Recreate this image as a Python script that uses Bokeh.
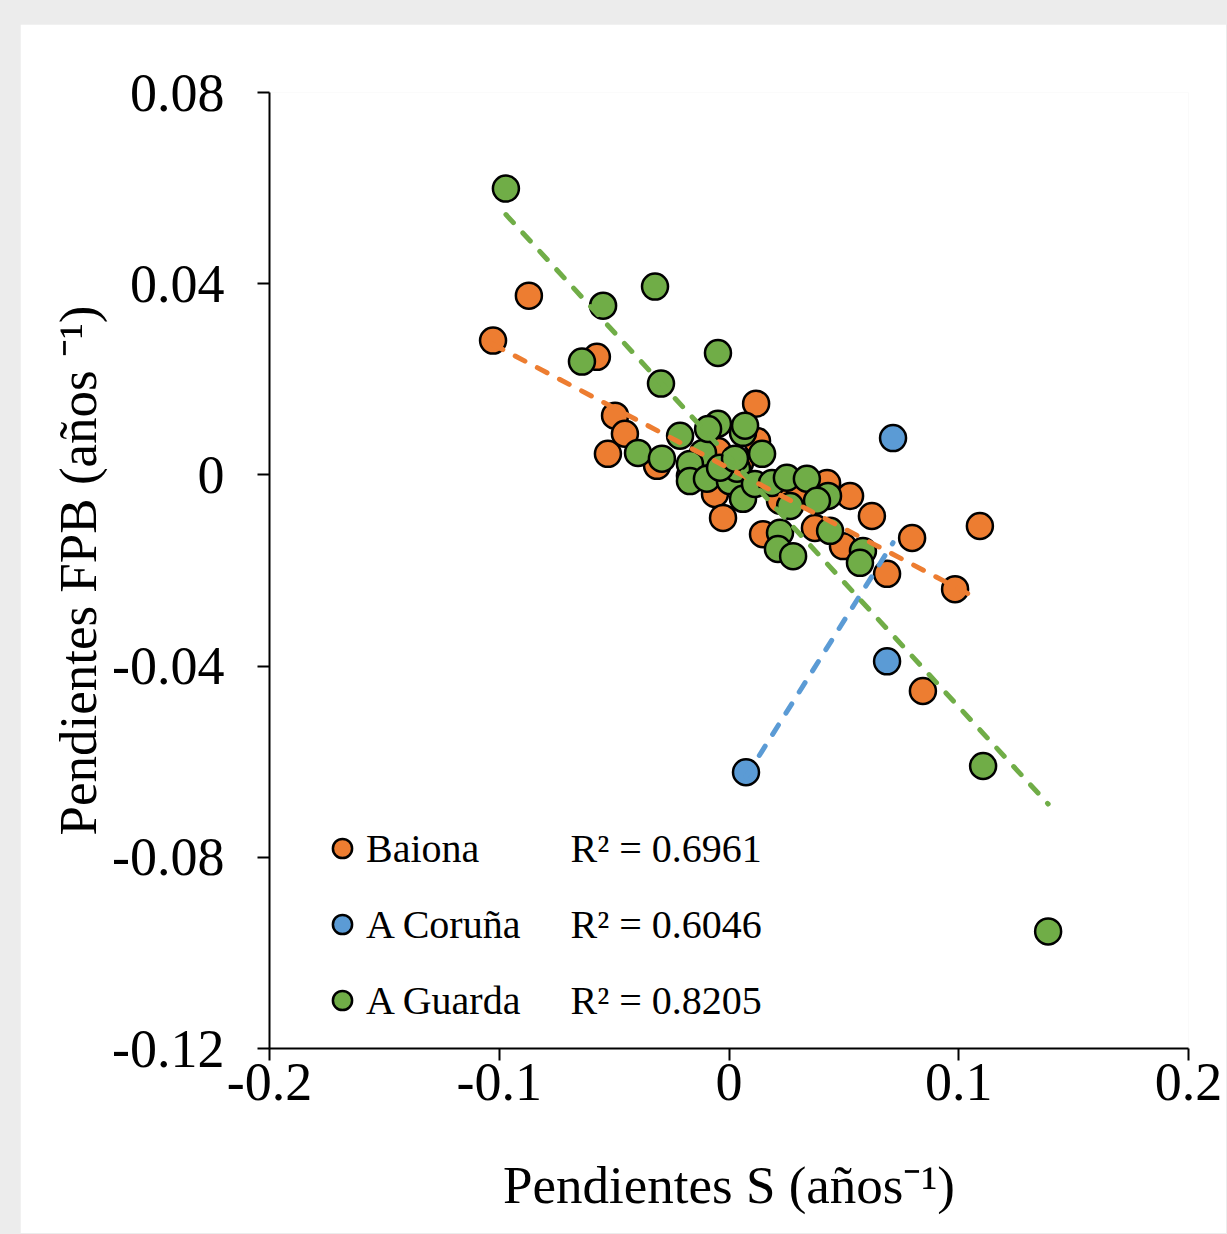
import numpy as np
from bokeh.plotting import figure
from bokeh.models import (Range1d, FixedTicker, Legend, LegendItem, Label,
                          GlobalInlineStyleSheet)
from bokeh.embed import file_html
from bokeh.resources import INLINE

# ---------------- data ----------------
baiona_x = [-0.1027, -0.0871, -0.0575, -0.0496, -0.0453, -0.0527, -0.0313, -0.0061,
            -0.0026, 0.0118, 0.0148, 0.0122, -0.0048, -0.0170, 0.0427, 0.0527,
            0.0622, 0.0374, 0.0496, 0.0688, 0.0797, 0.1092, 0.0984, 0.0844,
            0.0222, 0.0048, 0.0309, -0.0100]
baiona_y = [0.0281, 0.0375, 0.0247, 0.0124, 0.0086, 0.0044, 0.0019, -0.0040,
            -0.0090, 0.0149, -0.0124, 0.0071, 0.0050, -0.0002, -0.0017, -0.0044,
            -0.0086, -0.0111, -0.0149, -0.0207, -0.0132, -0.0107, -0.0239, -0.0452,
            -0.0054, 0.0025, -0.0040, 0.0019]

coruna_x = [0.0074, 0.0688, 0.0714]
coruna_y = [-0.0622, -0.0390, 0.0077]

guarda_x = [-0.0971, -0.0322, -0.0548, -0.0640, -0.0048, -0.0296, -0.0396, -0.0292,
            -0.0213, -0.0113, -0.0048, -0.0091, 0.0061, 0.0070, -0.0170, -0.0170,
            -0.0096, 0.0004, 0.0035, 0.0061, 0.0113, 0.0144, 0.0187, 0.0252,
            0.0339, 0.0431, 0.0383, 0.0266, 0.0440, 0.0222, 0.0213, 0.0279,
            0.0583, 0.0570, 0.1106, 0.1389, -0.0039, 0.0026]
guarda_y = [0.0599, 0.0394, 0.0354, 0.0237, 0.0255, 0.0191, 0.0046, 0.0034,
            0.0082, 0.0046, 0.0107, 0.0096, 0.0088, 0.0103, 0.0023, -0.0013,
            -0.0008, -0.0013, 0.0013, -0.0050, -0.0019, 0.0044, -0.0017, -0.0006,
            -0.0008, -0.0044, -0.0054, -0.0065, -0.0117, -0.0121, -0.0155, -0.0170,
            -0.0159, -0.0184, -0.0609, -0.0955, 0.0015, 0.0034]

series_names = ["Baiona", "A Coruña", "A Guarda"]
r2_labels = ["R² = 0.6961", "R² = 0.6046", "R² = 0.8205"]

x_ticks = [-0.2, -0.1, 0, 0.1, 0.2]
x_tick_labels = ["-0.2", "-0.1", "0", "0.1", "0.2"]
y_ticks = [-0.12, -0.08, -0.04, 0, 0.04, 0.08]
y_tick_labels = ["-0.12", "-0.08", "-0.04", "0", "0.04", "0.08"]

colors = ["#ED7D31", "#5B9BD5", "#70AD47"]
FONT = "Liberation Serif"

# ---------------- figure ----------------
p = figure(width=1206, height=1209,
           x_range=Range1d(-0.2, 0.2), y_range=Range1d(-0.12, 0.08),
           output_backend="svg", toolbar_location=None,
           min_border_left=249, min_border_right=38,
           min_border_top=68, min_border_bottom=185,
           margin=(24, 0, 0, 20),
           background_fill_color="white", border_fill_color="white")
p.stylesheets = [GlobalInlineStyleSheet(css="body { background-color: #ececec; }")]
p.outline_line_color = None
p.xgrid.visible = False
p.ygrid.visible = False

p.xaxis.ticker = FixedTicker(ticks=x_ticks)
p.yaxis.ticker = FixedTicker(ticks=y_ticks)
p.xaxis.major_label_overrides = {t: l for t, l in zip(x_ticks, x_tick_labels)}
p.yaxis.major_label_overrides = {t: l for t, l in zip(y_ticks, y_tick_labels)}

for ax in (p.xaxis, p.yaxis):
    ax.axis_line_color = "black"
    ax.axis_line_width = 2
    ax.major_tick_line_color = "black"
    ax.major_tick_line_width = 2
    ax.major_tick_in = 0
    ax.major_tick_out = 12
    ax.minor_tick_line_color = None
    ax.major_label_text_font = FONT
    ax.major_label_text_font_size = "54px"
    ax.major_label_text_color = "black"
    ax.axis_label_text_font = FONT
    ax.axis_label_text_font_size = "53px"
    ax.axis_label_text_font_style = "normal"
    ax.axis_label_text_color = "black"

p.xaxis.major_label_standoff = 3
p.yaxis.major_label_standoff = 33
p.xaxis.axis_label = "Pendientes S (años⁻¹)"
p.yaxis.axis_label = "Pendientes FPB (años ⁻¹)"
p.xaxis.axis_label_standoff = 53
p.yaxis.axis_label_standoff = 2

# ---------------- points ----------------
all_x = [baiona_x, coruna_x, guarda_x]
all_y = [baiona_y, coruna_y, guarda_y]
renderers = []
for xs, ys, c in zip(all_x, all_y, colors):
    r = p.scatter(xs, ys, size=26, fill_color=c, line_color="black", line_width=2.5)
    renderers.append(r)

# ---------------- linear trendlines (least squares) ----------------
for xs, ys, c in zip(all_x, all_y, colors):
    xa = np.array(xs)
    ya = np.array(ys)
    m, b = np.polyfit(xa, ya, 1)
    x0, x1 = xa.min(), xa.max()
    p.line([x0, x1], [m * x0 + b, m * x1 + b], line_color=c, line_width=5,
           line_dash="11 14", line_cap="round")

# ---------------- legend ----------------
legend = Legend(items=[LegendItem(label=n, renderers=[r]) for n, r in zip(series_names, renderers)],
                location=(49, 18), orientation="vertical",
                glyph_width=48, glyph_height=60, label_height=60,
                label_standoff=0, spacing=16, padding=0, margin=0,
                label_text_font=FONT, label_text_font_size="40px",
                label_text_color="black",
                background_fill_alpha=0, border_line_alpha=0)
p.add_layout(legend)

for i, txt in enumerate(r2_labels):
    p.add_layout(Label(x=301, y=200 - 76 * i, x_units="screen", y_units="screen",
                       text=txt, text_font=FONT, text_font_size="40px",
                       text_color="black", text_baseline="middle", text_align="left"))

open("out.html", "w").write(file_html(p, INLINE))
